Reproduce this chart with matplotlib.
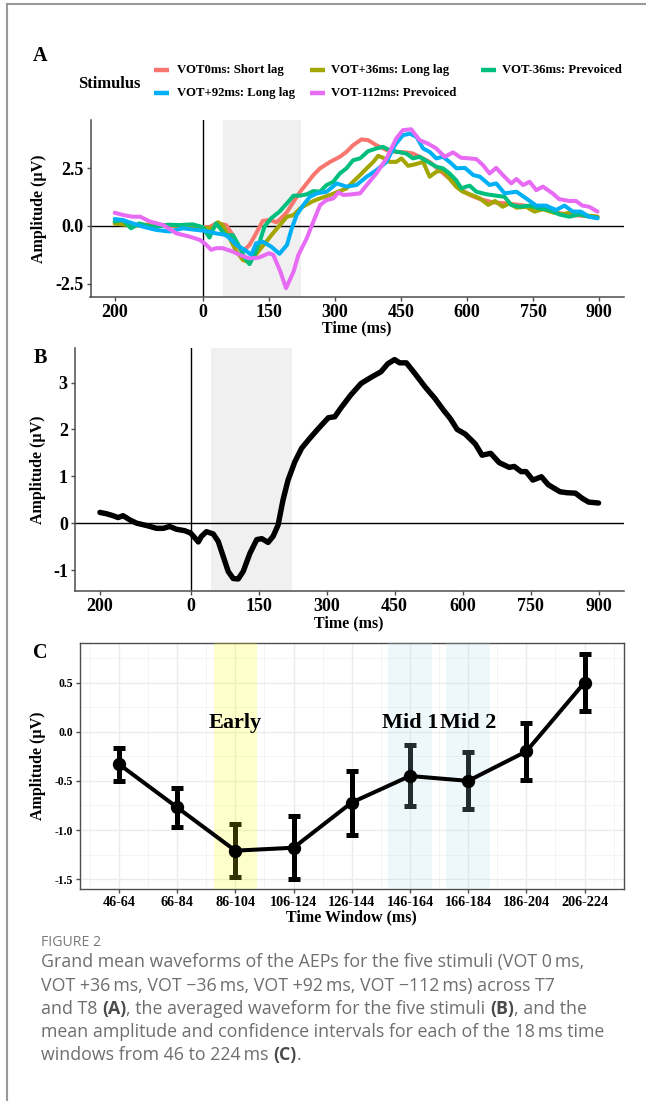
import matplotlib
matplotlib.use("Agg")
import matplotlib.pyplot as plt
from matplotlib.lines import Line2D
import numpy as np

# ---------------- data ----------------
# Panel A: grand mean waveforms (time in ms, amplitude in µV)
t_vot0 = [-200, -175, -150, -125, -100, -75, -50, -25, 0, 15, 30, 53, 68, 83, 92, 106, 121, 136, 152, 167, 176, 191, 206,
          221, 236, 251, 266, 289, 311, 326, 341, 360, 375, 394, 417, 439, 462, 477, 492, 515, 537, 560, 583, 606, 629,
          659, 689, 719, 749, 779, 810, 840, 870, 896]
v_vot0 = [0.15, 0.12, 0.05, 0.05, 0.02, 0.0, 0.0, -0.02, -0.05, -0.05, 0.11, 0.04, -0.39, -0.96, -1.08, -0.82, -0.32, 0.22,
          0.26, 0.16, 0.3, 0.6, 1.05, 1.48, 1.84, 2.2, 2.49, 2.77, 2.99, 3.2, 3.49, 3.74, 3.71, 3.49, 3.28, 3.2, 3.18, 3.13,
          2.99, 2.77, 2.41, 2.05, 1.62, 1.34, 1.16, 1.02, 0.98, 0.91, 0.83, 0.72, 0.55, 0.47, 0.43, 0.4]

t_vot36 = [-200, -175, -150, -125, -100, -75, -50, -25, 0, 23, 34, 45, 61, 76, 91, 102, 114, 129, 144, 159, 178, 191, 206,
           221, 236, 251, 266, 289, 311, 326, 341, 357, 372, 387, 398, 409, 424, 439, 451, 466, 481, 500, 515, 530, 545,
           560, 575, 590, 606, 629, 648, 663, 681, 696, 712, 734, 753, 772, 794, 817, 840, 862, 896]
v_vot36 = [0.1, 0.05, 0.02, 0.05, 0.0, 0.05, 0.0, 0.02, -0.1, -0.1, 0.16, 0.04, -0.53, -1.1, -1.47, -1.54, -1.39, -1.03,
           -0.68, -0.32, 0.11, 0.4, 0.47, 0.76, 0.93, 1.08, 1.19, 1.34, 1.51, 1.62, 1.91, 2.2, 2.49, 2.77, 3.03, 2.95, 2.77,
           2.77, 2.92, 2.6, 2.66, 2.77, 2.13, 2.34, 2.41, 2.05, 1.7, 1.48, 1.37, 1.19, 0.91, 1.08, 0.83, 0.98, 0.79, 0.83,
           0.62, 0.72, 0.59, 0.5, 0.62, 0.47, 0.4]

t_votm36 = [-200, -182, -163, -144, -125, -106, -80, -53, -23, 0, 15, 30, 42, 53, 68, 83, 95, 106, 117, 129, 140, 155, 174,
            191, 206, 221, 236, 251, 266, 281, 296, 311, 326, 341, 357, 375, 394, 409, 424, 443, 462, 477, 492, 511, 530,
            545, 560, 575, 587, 598, 606, 621, 644, 666, 685, 700, 719, 742, 764, 787, 809, 832, 855, 877, 896]
v_votm36 = [0.19, 0.26, -0.1, 0.11, 0.0, -0.03, 0.05, 0.04, 0.07, -0.05, -0.5, 0.11, -0.17, -0.42, -0.39, -0.89, -1.39,
            -1.65, -1.25, -0.68, -0.03, 0.33, 0.62, 0.98, 1.31, 1.31, 1.37, 1.51, 1.48, 1.77, 1.91, 2.27, 2.49, 2.84, 2.92,
            3.23, 3.35, 3.42, 3.28, 3.2, 3.13, 2.92, 2.99, 2.77, 2.56, 2.49, 2.27, 1.98, 1.62, 1.7, 1.74, 1.48, 1.37, 1.31,
            1.26, 0.91, 0.83, 0.88, 0.76, 0.69, 0.5, 0.4, 0.5, 0.4, 0.36]

t_vot92 = [-200, -182, -159, -136, -106, -76, -45, -15, 8, 30, 53, 76, 95, 110, 121, 136, 155, 174, 191, 202, 213, 228, 243,
           259, 281, 304, 326, 349, 372, 394, 417, 436, 454, 470, 485, 500, 515, 530, 545, 560, 576, 595, 614, 629, 651,
           666, 685, 712, 734, 757, 779, 802, 821, 840, 858, 877, 896]
v_vot92 = [0.3, 0.26, 0.11, -0.03, -0.17, -0.24, -0.1, -0.17, -0.22, -0.32, -0.39, -0.82, -1.03, -1.25, -0.75, -0.68, -0.89,
           -1.2, -0.82, -0.1, 0.47, 0.9, 1.26, 1.41, 1.48, 1.84, 1.7, 1.77, 2.13, 2.41, 2.77, 3.49, 3.92, 3.99, 3.85, 3.35,
           3.2, 2.92, 2.99, 2.77, 2.49, 2.51, 2.2, 2.13, 1.77, 1.84, 1.41, 1.48, 1.19, 0.88, 0.88, 0.69, 0.88, 0.62, 0.62,
           0.4, 0.33]

t_votm112 = [-200, -180, -160, -142, -120, -90, -60, -30, -7, 7, 19, 30, 45, 67, 90, 105, 127, 150, 160, 176, 189, 206,
             217, 236, 251, 266, 281, 296, 308, 319, 334, 357, 372, 394, 417, 439, 454, 473, 492, 511, 530, 549, 568, 586,
             605, 621, 636, 651, 666, 681, 700, 712, 727, 742, 757, 772, 794, 809, 832, 847, 862, 877, 896]
v_votm112 = [0.57, 0.47, 0.4, 0.4, 0.19, 0.04, -0.32, -0.46, -0.6, -0.8, -1.03, -0.96, -0.96, -1.1, -1.3, -1.4, -1.37,
             -1.18, -1.25, -1.97, -2.69, -1.97, -1.25, -0.53, 0.19, 0.9, 1.12, 1.19, 1.45, 1.34, 1.36, 1.41, 1.77, 2.27,
             2.92, 3.78, 4.14, 4.18, 3.71, 3.56, 3.35, 2.99, 3.18, 2.95, 2.92, 2.89, 2.63, 2.27, 2.51, 2.2, 1.84, 2.03,
             1.77, 1.91, 1.55, 1.7, 1.41, 1.16, 1.08, 1.08, 0.88, 0.83, 0.62]

stim_labels = ["VOT0ms: Short lag", "VOT+36ms: Long lag", "VOT-36ms: Prevoiced",
               "VOT+92ms: Long lag", "VOT-112ms: Prevoiced"]
stim_colors = ["#F8766D", "#A3A500", "#00BF7D", "#00B0F6", "#E76BF3"]

# Panel B: averaged waveform
t_avg = [-200, -185, -171, -160, -149, -134, -119, -97, -75, -60, -46, -31, -13, 0, 10, 17, 24, 35, 50, 61, 72, 83, 94,
         105, 116, 131, 146, 157, 171, 182, 193, 204, 215, 230, 245, 263, 282, 304, 318, 331, 353, 376, 398, 420, 435,
         450, 461, 476, 495, 517, 539, 558, 573, 588, 606, 628, 643, 662, 681, 703, 714, 729, 740, 755, 774, 789, 815,
         830, 849, 864, 878, 900]
v_avg = [0.23, 0.2, 0.16, 0.12, 0.16, 0.07, 0.0, -0.05, -0.11, -0.11, -0.07, -0.13, -0.16, -0.21, -0.32, -0.4, -0.28,
         -0.18, -0.23, -0.39, -0.71, -1.03, -1.18, -1.19, -1.03, -0.64, -0.35, -0.33, -0.41, -0.28, -0.04, 0.5, 0.92, 1.31,
         1.6, 1.81, 2.02, 2.25, 2.27, 2.45, 2.73, 2.98, 3.11, 3.23, 3.4, 3.49, 3.42, 3.42, 3.19, 2.91, 2.66, 2.41, 2.23,
         2.0, 1.9, 1.69, 1.45, 1.49, 1.29, 1.19, 1.21, 1.1, 1.1, 0.92, 0.99, 0.82, 0.67, 0.65, 0.64, 0.53, 0.45, 0.43]

shade_window = [46, 224]
time_ticks = [-200, 0, 150, 300, 450, 600, 750, 900]
time_ticklabels = ["200", "0", "150", "300", "450", "600", "750", "900"]

# Panel C: mean amplitude and CI per time window
windows = ["46-64", "66-84", "86-104", "106-124", "126-144", "146-164", "166-184", "186-204", "206-224"]
amp_mean = [-0.33, -0.77, -1.21, -1.18, -0.72, -0.45, -0.50, -0.20, 0.50]
amp_low = [-0.50, -0.97, -1.48, -1.50, -1.05, -0.76, -0.79, -0.49, 0.21]
amp_high = [-0.17, -0.57, -0.94, -0.86, -0.40, -0.135, -0.21, 0.09, 0.79]
highlights = [("86-104", "Early", "yellow"), ("146-164", "Mid 1", "lightblue"), ("166-184", "Mid 2", "lightblue")]

# ---------------- figure ----------------
W, H = 646, 1110
fig = plt.figure(figsize=(W / 100, H / 100), dpi=100)
SERIF = "Liberation Serif"
CAPF = ["Open Sans", "DejaVu Sans"]


def box(l, t, r, b):
    return [l / W, 1 - b / H, (r - l) / W, (b - t) / H]


def ftext(x, y, s, **kw):
    return fig.text(x / W, 1 - y / H, s, **kw)


def style_classic(ax, size):
    for s in ("top", "right"):
        ax.spines[s].set_visible(False)
    for s in ("left", "bottom"):
        ax.spines[s].set_color("#4d4d4d")
        ax.spines[s].set_linewidth(1.1)
    ax.tick_params(direction="out", length=3.2, width=1.0, color="#4d4d4d", labelsize=size, pad=2)
    for lab in ax.get_xticklabels() + ax.get_yticklabels():
        lab.set_fontfamily(SERIF)
        lab.set_fontweight("bold")


# ---- Panel A ----
axA = fig.add_axes(box(90.5, 120, 623.5, 297))
axA.axvspan(shade_window[0], shade_window[1], color="#F0F0F0", lw=0, zorder=0)
axA.axhline(0, color="black", lw=1.0, zorder=1)
axA.axvline(0, color="black", lw=1.0, zorder=1)
seriesA = [(t_vot0, v_vot0), (t_vot36, v_vot36), (t_votm36, v_votm36), (t_vot92, v_vot92), (t_votm112, v_votm112)]
for (tt, vv), c in zip(seriesA, stim_colors):
    axA.plot(tt, vv, color=c, lw=2.9, solid_joinstyle="round", solid_capstyle="round", zorder=3)
axA.set_xlim(-255, 955)
axA.set_ylim(-3.07, 4.58)
axA.set_xticks(time_ticks)
axA.set_xticklabels(time_ticklabels)
axA.set_yticks([-2.5, 0, 2.5])
axA.set_yticklabels(["-2.5", "0.0", "2.5"])
style_classic(axA, 13)

ftext(40, 56, "A", fontsize=14.5, fontweight="bold", family=SERIF, ha="center", va="center")
ftext(39, 208.5, "Amplitude (µV)", fontsize=11.5, fontweight="bold", family=SERIF, ha="center", va="center",
      rotation=90)
ftext(357, 328, "Time (ms)", fontsize=11.5, fontweight="bold", family=SERIF, ha="center", va="center")

# legend (manual layout, row-wise like ggplot)
ftext(78, 84, "Stimulus", fontsize=11.9, fontweight="bold", family=SERIF, ha="left", va="center")
leg_cols = [(154, 169, 177), (309.5, 325, 331), (481, 496, 502)]
leg_rows = [70, 93]
for i, (lab, c) in enumerate(zip(stim_labels, stim_colors)):
    r, col = divmod(i, 3)
    x0, x1, xt = leg_cols[col]
    y = leg_rows[r]
    fig.add_artist(Line2D([x0 / W, x1 / W], [1 - y / H, 1 - y / H], color=c, lw=3.2, solid_capstyle="butt"))
    ftext(xt, y, lab, fontsize=9.2, fontweight="bold", family=SERIF, ha="left", va="center")

# ---- Panel B ----
axB = fig.add_axes(box(75, 348.3, 623.5, 590.7))
axB.axvspan(shade_window[0], shade_window[1], color="#F0F0F0", lw=0, zorder=0)
axB.axhline(0, color="black", lw=1.0, zorder=1)
axB.axvline(0, color="black", lw=1.0, zorder=1)
axB.plot(t_avg, v_avg, color="black", lw=3.9, solid_joinstyle="round", solid_capstyle="round", zorder=3)
axB.set_xlim(-255, 955)
axB.set_ylim(-1.44, 3.73)
axB.set_xticks(time_ticks)
axB.set_xticklabels(time_ticklabels)
axB.set_yticks([-1, 0, 1, 2, 3])
axB.set_yticklabels(["-1", "0", "1", "2", "3"])
style_classic(axB, 13)

ftext(40, 358, "B", fontsize=14.5, fontweight="bold", family=SERIF, ha="center", va="center")
ftext(38, 469.5, "Amplitude (µV)", fontsize=11.5, fontweight="bold", family=SERIF, ha="center", va="center",
      rotation=90)
ftext(349, 623, "Time (ms)", fontsize=11.5, fontweight="bold", family=SERIF, ha="center", va="center")

# ---- Panel C ----
axC = fig.add_axes(box(80, 643.3, 623.5, 889))
xs = np.arange(1, len(windows) + 1)
m = np.array(amp_mean)
lo = np.array(amp_low)
hi = np.array(amp_high)
axC.errorbar(xs, m, yerr=[m - lo, hi - m], fmt="none", ecolor="black", elinewidth=3.6, capsize=4.6, capthick=3.6,
             zorder=2)
for win, lab, col in highlights:
    k = windows.index(win) + 1
    axC.axvspan(k - 0.375, k + 0.375, color=col, alpha=0.2, lw=0, zorder=3)
axC.plot(xs, m, color="black", lw=2.9, marker="o", markersize=8.6, zorder=4)
for win, lab, col in highlights:
    k = windows.index(win) + 1
    axC.text(k, 0.09, lab, fontsize=16, fontweight="bold", family=SERIF, ha="center", va="center", zorder=5)
axC.set_xlim(0.33, 9.67)
axC.set_ylim(-1.6, 0.9)
axC.set_xticks(xs)
axC.set_xticklabels(windows)
axC.set_xticks(np.arange(0.5, 10, 1.0), minor=True)
axC.set_yticks([-1.5, -1.0, -0.5, 0.0, 0.5])
axC.set_yticklabels(["-1.5", "-1.0", "-0.5", "0.0", "0.5"])
axC.set_yticks([-1.25, -0.75, -0.25, 0.25, 0.75], minor=True)
axC.grid(True, which="major", color="#EBEBEB", lw=1.0, zorder=0)
axC.grid(True, which="minor", color="#F2F2F2", lw=0.6, zorder=0)
axC.set_axisbelow(True)
for s in axC.spines.values():
    s.set_color("#4d4d4d")
    s.set_linewidth(1.0)
axC.tick_params(which="major", direction="out", length=3.2, width=1.0, color="#4d4d4d", pad=2)
axC.tick_params(which="minor", length=0)
axC.tick_params(axis="x", labelsize=10.2)
axC.tick_params(axis="y", labelsize=8.4)
for lab in axC.get_xticklabels() + axC.get_yticklabels():
    lab.set_fontfamily(SERIF)
    lab.set_fontweight("bold")

ftext(40, 653, "C", fontsize=14.5, fontweight="bold", family=SERIF, ha="center", va="center")
ftext(38.5, 766, "Amplitude (µV)", fontsize=11.5, fontweight="bold", family=SERIF, ha="center", va="center",
      rotation=90)
ftext(351, 917, "Time Window (ms)", fontsize=11.5, fontweight="bold", family=SERIF, ha="center", va="center")

# ---- page border ----
fig.add_artist(Line2D([7 / W, 7 / W], [1 - 4 / H, 1 - 1100 / H], color="#9a9a9a", lw=1.5))
fig.add_artist(Line2D([7 / W, 1.0], [1 - 4 / H, 1 - 4 / H], color="#9a9a9a", lw=1.5))

# ---- caption ----
ftext(41, 942, "FIGURE 2", fontsize=10.2, family=CAPF, color="#7a7a7a", ha="left", va="center")
renderer = fig.canvas.get_renderer()
cap_lines = [
    [("Grand mean waveforms of the AEPs for the five stimuli (VOT 0\u2009ms,", False)],
    [("VOT +36\u2009ms, VOT \u221236\u2009ms, VOT +92\u2009ms, VOT \u2212112\u2009ms) across T7", False)],
    [("and T8 ", False), ("(A)", True), (", the averaged waveform for the five stimuli ", False), ("(B)", True),
     (", and the", False)],
    [("mean amplitude and confidence intervals for each of the 18\u2009ms time", False)],
    [("windows from 46 to 224\u2009ms ", False), ("(C)", True), (".", False)],
]
cap_y = [962, 985.5, 1009, 1032, 1055]
for pieces, y in zip(cap_lines, cap_y):
    x = 41
    for s, bold in pieces:
        t = ftext(x, y, s, fontsize=12.8, family=CAPF, fontweight="bold" if bold else "normal",
                  color="#4a4a4a" if bold else "#6e6e6e", ha="left", va="center")
        bb = t.get_window_extent(renderer)
        x = bb.x1

fig.savefig("out.png", dpi=100)
